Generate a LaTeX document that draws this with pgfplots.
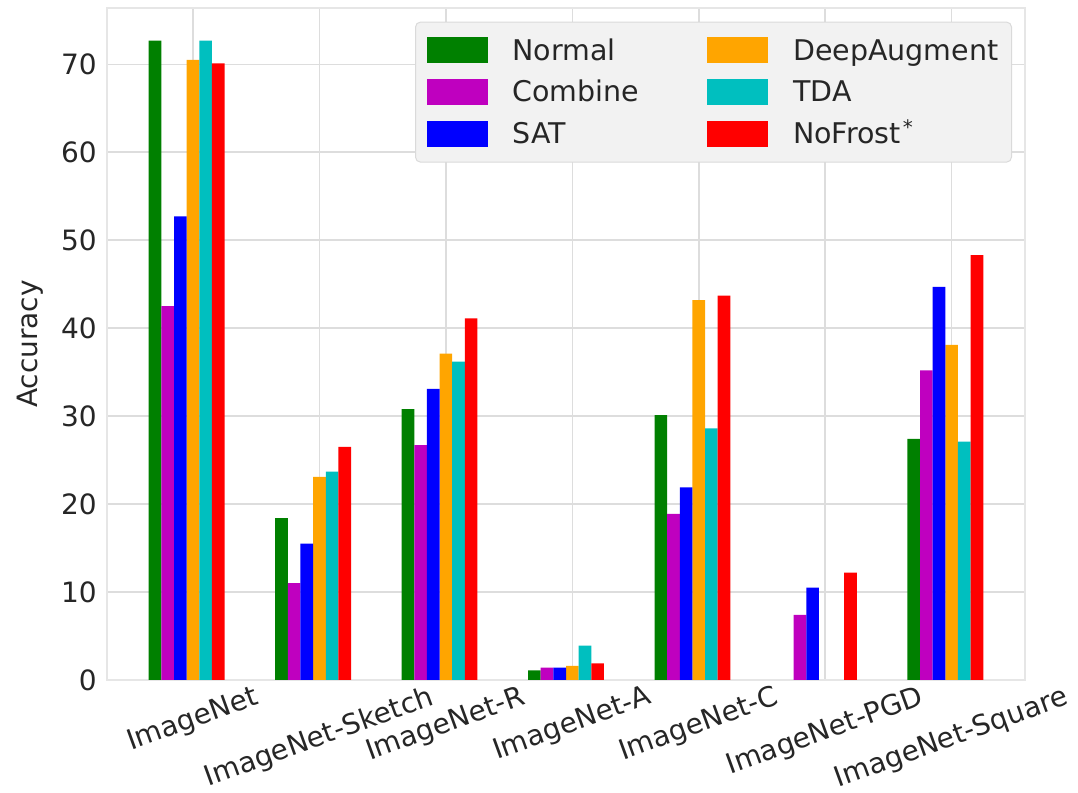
\documentclass[border=0pt]{standalone}
\usepackage{fontspec}
\setmainfont{DejaVu Sans}
\usepackage{graphicx}
\usepackage{pgfplots}
\pgfplotsset{compat=1.18}
\definecolor{cNormal}{rgb}{0,0.5,0}
\definecolor{cCombine}{rgb}{0.75,0,0.75}
\definecolor{cSAT}{rgb}{0,0,1}
\definecolor{cDA}{HTML}{FFA500}
\definecolor{cTDA}{rgb}{0,0.75,0.75}
\definecolor{cNF}{rgb}{1,0,0}
\definecolor{gridc}{HTML}{DDDDDD}
\definecolor{framec}{HTML}{E6E6E6}
\definecolor{legfill}{HTML}{F2F2F2}
\definecolor{legdraw}{HTML}{DADADA}
\newcommand{\fs}{\fontsize{28}{33}\selectfont}
\newcommand{\fl}{\fontsize{28.5}{33}\selectfont}
\newcommand{\rl}[1]{\rotatebox{20}{#1}}
\begin{document}
\begin{tikzpicture}
\begin{axis}[name=ax, scale only axis, width=918pt, height=672pt,
  xmin=-0.68, xmax=6.58, ymin=0, ymax=76.4,
  ybar, bar width=0.1,
  xtick={0,1,2,3,4,5,6},
  xticklabels={\rl{ImageNet},\rl{ImageNet-Sketch},\rl{ImageNet-R},\rl{ImageNet-A},\rl{ImageNet-C},\rl{ImageNet-PGD},\rl{ImageNet-Square}},
  xticklabel style={anchor=north, inner sep=0pt, yshift=-4pt},
  ytick={0,10,20,30,40,50,60,70},
  yticklabel style={anchor=east, inner sep=0pt, xshift=-10pt},
  major tick length=0pt,
  tick label style={font=\fs, text=black!85},
  /pgf/number format/assume math mode=true,
  ylabel={Accuracy},
  ylabel style={font=\fs, text=black!85, at={(axis description cs:-0.0839,0.5)}, anchor=center},
  grid=major, grid style={gridc, line width=1.5pt},
  axis line style={framec, line width=2.5pt},
  legend columns=2,
  legend cell align=left,
  legend image code/.code={\fill[#1, sharp corners] (0pt,-12.6pt) rectangle (61pt,13.4pt);},
  legend style={at={(1,1)}, anchor=north east, xshift=-13pt, yshift=-13.6pt,
    fill=legfill, draw=legdraw, line width=1pt, rounded corners=5pt, font=\fl, text=black!85,
    inner xsep=11pt, inner ysep=15pt, row sep=15.2pt,
    /tikz/every odd column/.append style={column sep=23pt},
    /tikz/every even column/.append style={column sep=66pt, inner xsep=0pt, inner ysep=0pt, text height=20.8pt, text depth=8pt}},
]
\addplot[fill=cNormal, draw=none, bar shift=-0.3] coordinates {(0,72.7) (1,18.4) (2,30.8) (3,1.1) (4,30.1) (6,27.4)};
\addlegendentry{Normal}
\addplot[fill=cDA, draw=none, bar shift=0] coordinates {(0,70.5) (1,23.1) (2,37.1) (3,1.6) (4,43.2) (6,38.1)};
\addlegendentry{DeepAugment}
\addplot[fill=cCombine, draw=none, bar shift=-0.2] coordinates {(0,42.5) (1,11.0) (2,26.7) (3,1.4) (4,18.9) (5,7.4) (6,35.2)};
\addlegendentry{Combine}
\addplot[fill=cTDA, draw=none, bar shift=0.1] coordinates {(0,72.7) (1,23.7) (2,36.2) (3,3.9) (4,28.6) (6,27.1)};
\addlegendentry{TDA}
\addplot[fill=cSAT, draw=none, bar shift=-0.1] coordinates {(0,52.7) (1,15.5) (2,33.1) (3,1.4) (4,21.9) (5,10.5) (6,44.7)};
\addlegendentry{SAT}
\addplot[fill=cNF, draw=none, bar shift=0.2] coordinates {(0,70.1) (1,26.5) (2,41.1) (3,1.9) (4,43.7) (5,12.2) (6,48.3)};
\addlegendentry{NoFrost\kern2pt\textsuperscript{*}}
\end{axis}
\pgfresetboundingbox
\path ([xshift=-107pt,yshift=-113pt]ax.south west) rectangle ([xshift=53pt,yshift=8pt]ax.north east);
\end{tikzpicture}
\end{document}
